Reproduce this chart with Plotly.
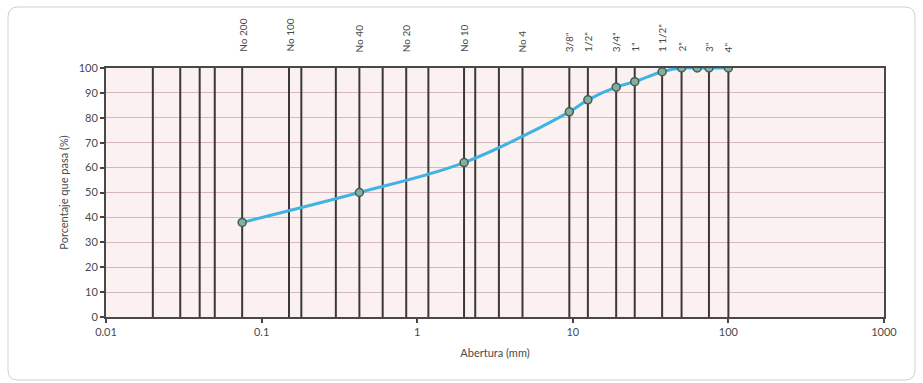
import math
import plotly.graph_objects as go

# ---- data ----
sieve_sizes_mm = [0.02, 0.03, 0.04, 0.05, 0.075, 0.15, 0.18, 0.3, 0.425, 0.6, 0.85, 1.18,
                  2.0, 2.36, 3.35, 4.75, 9.5, 12.5, 19.0, 25.0, 37.5, 50.0, 75.0, 100.0]
label_sizes_mm = [0.075, 0.15, 0.425, 0.85, 2.0, 4.75, 9.5, 12.5, 19.0, 25.0, 37.5, 50.0, 75.0, 100.0]
label_texts = ["No 200", "No 100", "No 40", "No 20", "No 10", "No 4", '3/8"', '1/2"', '3/4"',
               '1"', '1 1/2"', '2"', '3"', '4"']
abertura_mm = [0.075, 0.425, 2.0, 9.5, 12.5, 19.0, 25.0, 37.5, 50.0, 63.0, 75.0, 100.0]
pasa_pct = [38, 50, 62, 82.4, 87.2, 92.3, 94.5, 98.5, 100, 100, 100, 100]
x_tick_vals = [0.01, 0.1, 1, 10, 100, 1000]
x_tick_text = ["0.01", "0.1", "1", "10", "100", "1000"]

W, H = 923, 383
ML, MR, MT, MB = 106, 39, 68, 66
FONT = "Lato, 'Open Sans', sans-serif"

fig = go.Figure()

# vertical sieve lines
vx, vy = [], []
for s in sieve_sizes_mm:
    vx += [s, s, None]
    vy += [0, 100, None]
fig.add_trace(go.Scatter(x=vx, y=vy, mode="lines",
                         line=dict(color="#3a3838", width=2),
                         hoverinfo="skip", showlegend=False))

# grading curve
fig.add_trace(go.Scatter(x=abertura_mm, y=pasa_pct, mode="lines+markers",
                         line=dict(color="#41b3e3", width=3, shape="spline"),
                         marker=dict(size=8, color="#86aea0",
                                     line=dict(color="#3e5f55", width=1.5)),
                         showlegend=False))

# sieve labels above the plot (annotation x on log axis is log10 of value)
for s, t in zip(label_sizes_mm, label_texts):
    fig.add_annotation(x=math.log10(s), y=1, xref="x", yref="paper", text=t, showarrow=False,
                       textangle=-90, xanchor="center", yanchor="bottom", yshift=14,
                       font=dict(family=FONT, size=10, color="#4a4a4a"))

# outer rounded frame (pixel coords -> paper)
pw, ph = W - ML - MR, H - MT - MB
def px(x):
    return (x - ML) / pw
def py(y):
    return (H - MB - y) / ph
x0, x1, y0, y1, r = 8, 915, 7, 380, 10
path = (f"M {px(x0 + r)} {py(y0)} L {px(x1 - r)} {py(y0)} Q {px(x1)} {py(y0)} {px(x1)} {py(y0 + r)} "
        f"L {px(x1)} {py(y1 - r)} Q {px(x1)} {py(y1)} {px(x1 - r)} {py(y1)} "
        f"L {px(x0 + r)} {py(y1)} Q {px(x0)} {py(y1)} {px(x0)} {py(y1 - r)} "
        f"L {px(x0)} {py(y0 + r)} Q {px(x0)} {py(y0)} {px(x0 + r)} {py(y0)} Z")
fig.add_shape(type="path", path=path, xref="paper", yref="paper",
              line=dict(color="#cfcfcf", width=1), layer="below")

fig.update_layout(
    width=W, height=H,
    margin=dict(l=ML, r=MR, t=MT, b=MB),
    paper_bgcolor="white", plot_bgcolor="#fbf1f1",
    font=dict(family=FONT, size=11, color="#4a4a4a"),
    xaxis=dict(type="log", range=[-2, 3], tickvals=x_tick_vals, ticktext=x_tick_text,
               showgrid=False, zeroline=False, ticks="outside", ticklen=4,
               tickcolor="#444", tickwidth=2, showline=True, linecolor="#484848",
               linewidth=2, mirror=True,
               title=dict(text="Abertura (mm)", font=dict(size=11), standoff=12),
               tickfont=dict(size=11)),
    yaxis=dict(range=[0, 100], dtick=10, showgrid=True, gridcolor="#d3b9bc", gridwidth=1,
               zeroline=False, ticks="outside", ticklen=4, tickcolor="#444", tickwidth=2,
               showline=True, linecolor="#484848", linewidth=2, mirror=True,
               title=dict(text="Porcentaje que pasa (%)", font=dict(size=11), standoff=8),
               tickfont=dict(size=11)),
)

fig.write_html("out.html")
